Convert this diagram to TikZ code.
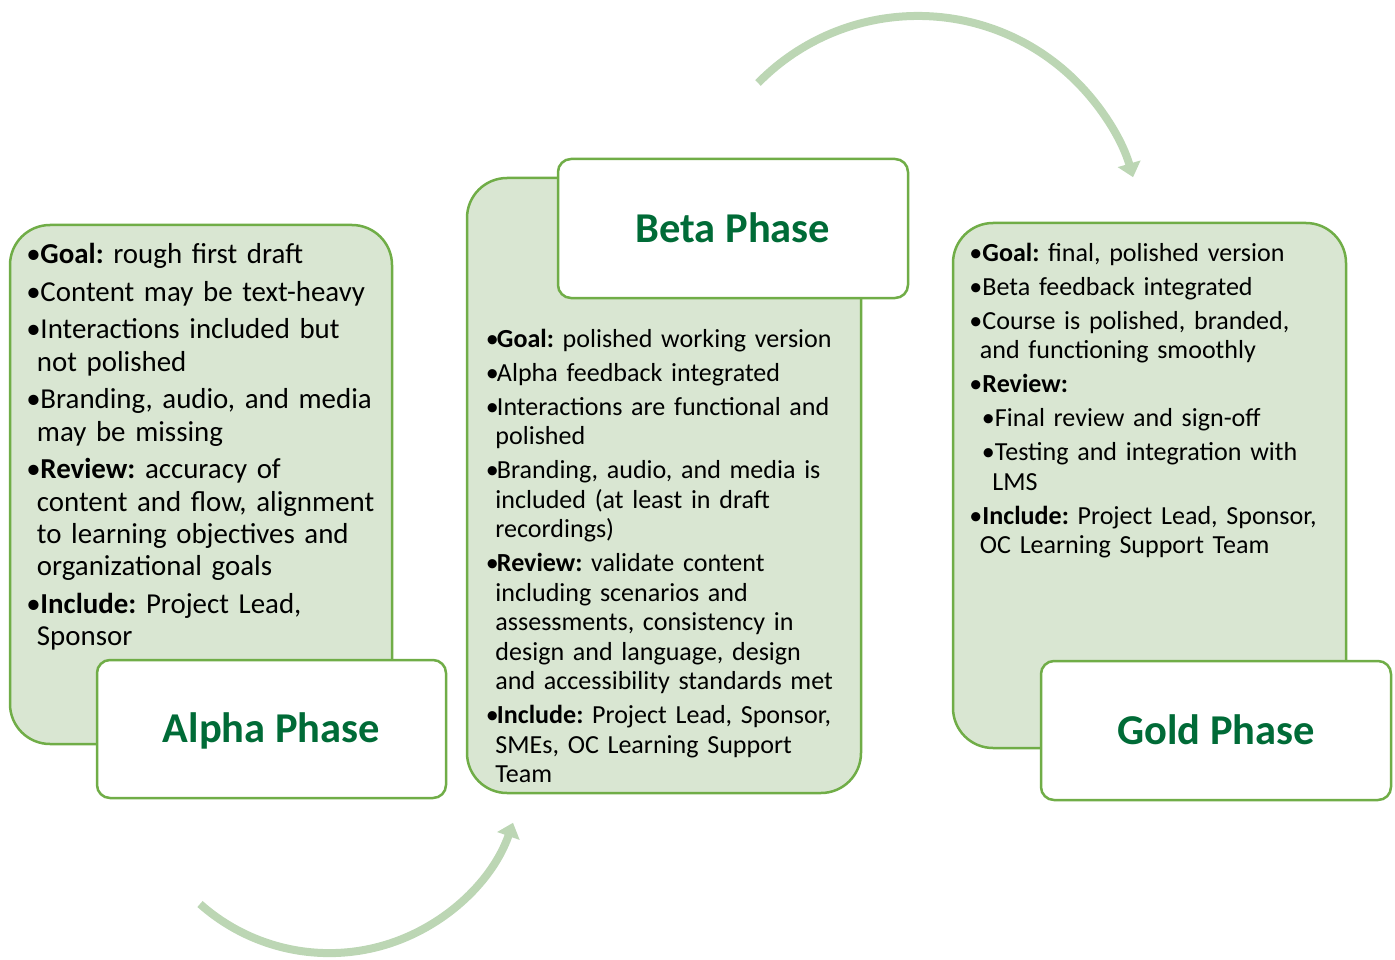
\documentclass[tikz,border=0pt]{standalone}
\usepackage{fontspec}
\setmainfont{Carlito}
\usepackage{xcolor}
\usetikzlibrary{arrows.meta,positioning}

\definecolor{phasefill}{HTML}{D9E6D2}
\definecolor{phaseline}{HTML}{70AD47}
\definecolor{phasetitle}{HTML}{006B37}
\definecolor{cyclegreen}{HTML}{BCD6B4}

% bullet lists inside the phase boxes
\newlength{\phbul}
\newlength{\phhang}
\newcommand{\phitem}[1]{\noindent\hangindent=\phhang\hangafter=1%
  \makebox[\phbul][l]{\textbullet}#1\par}
\newcommand{\phsubitem}[1]{\noindent\hangindent=\dimexpr\phhang+12.5pt\relax
  \hangafter=1\hspace*{12.5pt}\makebox[\phbul][l]{\textbullet}#1\par}

\begin{document}
\begin{tikzpicture}[
    x=1pt, y=-1pt,
    phasebox/.style={draw=phaseline, line width=2.5pt, fill=phasefill,
        rounded corners=40pt, inner sep=0pt},
    titlebox/.style={draw=phaseline, line width=2.5pt, fill=white,
        rounded corners=13pt, minimum width=349pt, minimum height=138pt,
        text height=27.4pt, text depth=0pt,
        font=\fontsize{42.5}{50}\selectfont\bfseries, text=phasetitle},
    listtext/.style={inner sep=0pt, align=left, text width=380pt},
    cyclearrow/.style={draw=cyclegreen, line width=8pt,
        -{Triangle[length=14pt,width=23pt]}}
]
\useasboundingbox (0,0) rectangle (1395,960);

% cycle arrows
\coordinate (lowarc) at (200,904);
\coordinate (toparc) at (758,83);
\draw[cyclearrow] (lowarc) arc[start angle=131.6, end angle=19.3, radius=194.7];
\draw[cyclearrow] (toparc) arc[start angle=-135.5, end angle=-16.3, radius=224.2];

% Alpha
\node[phasebox, minimum width=382pt, minimum height=519pt] (alpha) at (201,484.5) {};
\node[listtext, font=\fontsize{28.9}{32.3}\selectfont,
    execute at begin node={\frenchspacing\setlength{\parskip}{5.3pt}%
      \setlength{\phbul}{14pt}\setlength{\phhang}{10.5pt}},
    below right=40pt and 17.5pt of alpha.north west, anchor=base west] (alphalist) {%
\phitem{\textbf{Goal:} rough first draft}
\phitem{Content may be text-heavy}
\phitem{Interactions included but\newline not polished}
\phitem{Branding, audio, and media\newline may be missing}
\phitem{\textbf{Review:} accuracy of\newline content and flow, alignment\newline to learning objectives and\newline organizational goals}
\phitem{\textbf{Include:} Project Lead,\newline Sponsor}};
\node[titlebox] (alphatitle) at (271.5,729) {Alpha Phase};

% Beta
\node[phasebox, minimum width=394pt, minimum height=615pt] (beta) at (664,485.5) {};
\node[listtext, font=\fontsize{26.05}{29.5}\selectfont,
    execute at begin node={\frenchspacing\setlength{\parskip}{4.5pt}%
      \setlength{\phbul}{11pt}\setlength{\phhang}{9.5pt}},
    below right=170.3pt and 20pt of beta.north west, anchor=base west] (betalist) {%
\phitem{\textbf{Goal:} polished working version}
\phitem{Alpha feedback integrated}
\phitem{Interactions are functional and\newline polished}
\phitem{Branding, audio, and media is\newline included (at least in draft\newline recordings)}
\phitem{\textbf{Review:} validate content\newline including scenarios and\newline assessments, consistency in\newline design and language, design\newline and accessibility standards met}
\phitem{\textbf{Include:} Project Lead, Sponsor,\newline SMEs, OC Learning Support\newline Team}};
\node[titlebox, minimum width=350pt, minimum height=139pt] (betatitle) at (733,228.5) {Beta Phase};

% Gold
\node[phasebox, minimum width=393pt, minimum height=525pt] (gold) at (1149.5,485.5) {};
\node[listtext, font=\fontsize{26.05}{29.5}\selectfont,
    execute at begin node={\frenchspacing\setlength{\parskip}{4.5pt}%
      \setlength{\phbul}{13pt}\setlength{\phhang}{10.5pt}},
    below right=39.7pt and 17.5pt of gold.north west, anchor=base west] (goldlist) {%
\phitem{\textbf{Goal:} final, polished version}
\phitem{Beta feedback integrated}
\phitem{Course is polished, branded,\newline and functioning smoothly}
\phitem{\textbf{Review:}}
\phsubitem{Final review and sign-off}
\phsubitem{Testing and integration with\newline LMS}
\phitem{\textbf{Include:} Project Lead, Sponsor,\newline OC Learning Support Team}};
\node[titlebox, minimum width=350pt, minimum height=139pt] (goldtitle) at (1216,730.5) {Gold Phase};

\end{tikzpicture}
\end{document}
